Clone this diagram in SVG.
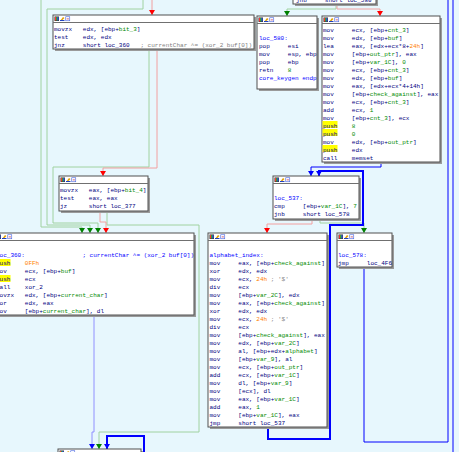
<svg xmlns="http://www.w3.org/2000/svg" width="459" height="452" viewBox="0 0 459 452" xml:space="preserve">
<style>
.t{font-family:"Liberation Mono","DejaVu Sans Mono",monospace;font-size:6px;fill:#000080;white-space:pre}
.v{fill:#008a00}
.o{fill:#ff8000}
.c{fill:#808080}
.l{fill:#0000ff}
.sh{fill:#9a9a9a}
.bx{fill:#ffffff;stroke:#505050;stroke-width:1}
.hd{stroke:#707070;stroke-width:1}
.hl{fill:#ffff00}
.eg{fill:none;stroke:#a0d2a0;stroke-width:1}
.er{fill:none;stroke:#f2a0a0;stroke-width:1}
.eb{fill:none;stroke:#0000ff;stroke-width:1}
.ebt{fill:none;stroke:#0000ff;stroke-width:2}
.elb{fill:none;stroke:#9090ff;stroke-width:1}
</style>
<defs>
<marker id="ag" viewBox="0 0 5 6" refX="5" refY="3" markerWidth="5" markerHeight="6" markerUnits="userSpaceOnUse" orient="auto"><path d="M0,0 L5,3 L0,6 z" fill="#008000"/></marker>
<marker id="ar" viewBox="0 0 5 6" refX="5" refY="3" markerWidth="5" markerHeight="6" markerUnits="userSpaceOnUse" orient="auto"><path d="M0,0 L5,3 L0,6 z" fill="#ff0000"/></marker>
<marker id="ab" viewBox="0 0 5 6" refX="5" refY="3" markerWidth="5" markerHeight="6" markerUnits="userSpaceOnUse" orient="auto"><path d="M0,0 L5,3 L0,6 z" fill="#0000ff"/></marker>
<g id="icons">
<rect x="0" y="0" width="4.5" height="4.5" fill="#303030"/>
<rect x="0.5" y="0.5" width="1.2" height="3.5" fill="#ff3030"/>
<rect x="1.7" y="0.5" width="1.2" height="3.5" fill="#30c030"/>
<rect x="2.9" y="0.5" width="1.1" height="3.5" fill="#3060ff"/>
<rect x="5.5" y="0" width="4.5" height="4.5" fill="#ffffff"/>
<polygon points="5.5,4.5 8.5,0.5 10,1.5 7,4.5" fill="#e0a000"/>
<rect x="5.5" y="3.5" width="4.5" height="1" fill="#2040c0"/>
<rect x="11.25" y="0.25" width="4" height="4" fill="#ffffff" stroke="#4060e0" stroke-width="0.6"/>
<rect x="12.2" y="2" width="2.2" height="0.8" fill="#c04060"/>
</g>
</defs>
<rect x="0" y="0" width="459" height="452" fill="#e7f7fd"/>

<g id="connectors">
<path class="eg" d="M41,0 V227 H82 V233" marker-end="url(#ag)"/>
<path class="eg" d="M143,0 V9 H47 V225 H90 V233" marker-end="url(#ag)"/>
<path class="eg" d="M149,49 V167 H53 V223 H98 V233" marker-end="url(#ag)"/>
<path class="eg" d="M107,211 V225 H199 V432 H99 V449" marker-end="url(#ag)"/>
<path class="eg" d="M336,4 V9 H287 V16" marker-end="url(#ag)"/>
<path class="eg" d="M320,219 V223 H364 V233" marker-end="url(#ag)"/>
<path class="er" d="M152,0 V15" marker-end="url(#ar)"/>
<path class="er" d="M157,49 V168 H103 V176" marker-end="url(#ar)"/>
<path class="er" d="M100,211 V222 H106 V233" marker-end="url(#ar)"/>
<path class="er" d="M337,4 V9 H380 V16" marker-end="url(#ar)"/>
<path class="er" d="M312,219 V224 H267 V233" marker-end="url(#ar)"/>
<path class="elb" d="M94,315 V432 H92 V449" marker-end="url(#ab)"/>
<path class="eb" d="M381,162 V167 H311 V176" marker-end="url(#ab)"/>
<path class="ebt" d="M268,427 V439 H330 V225 H363 V171 H319 V176" marker-end="url(#ab)"/>
<path class="eb" d="M364,267 V442 H448 V0"/>
<path class="eb" d="M453,0 V452"/>
<path class="ebt" d="M144,452 V436 H107 V449" marker-end="url(#ab)"/>
</g>

<g id="n_top">
<rect class="sh" x="295" y="-28" width="83" height="34"/>
<rect class="bx" x="293" y="-30" width="83" height="34"/>
<text class="t" x="296" y="2">jnb     short loc_580</text>
</g>

<g id="n_bit3">
<rect class="sh" x="55" y="17" width="201" height="34"/>
<rect class="bx" x="53" y="15" width="201" height="34"/>
<line class="hd" x1="53" y1="22.5" x2="254" y2="22.5"/>
<use href="#icons" x="54.5" y="16.5"/>
<text class="t" x="54" y="30.5">movzx   edx, [ebp+<tspan class="v">bit_3</tspan>]</text>
<text class="t" x="54" y="38.5">test    edx, edx</text>
<text class="t" x="54" y="46.5">jnz     short loc_360   <tspan class="c">; currentChar ^= (xor_2 buf[0])</tspan></text>
</g>

<g id="n_loc580">
<rect class="sh" x="259" y="18" width="60" height="73"/>
<rect class="bx" x="257" y="16" width="60" height="73"/>
<line class="hd" x1="257" y1="23.5" x2="317" y2="23.5"/>
<use href="#icons" x="258.5" y="17.5"/>
<text class="t l" x="259" y="39.5">loc_580:</text>
<text class="t" x="259" y="47.5">pop     esi</text>
<text class="t" x="259" y="55.5">mov     esp, ebp</text>
<text class="t" x="259" y="63.5">pop     ebp</text>
<text class="t" x="259" y="71.5">retn    <tspan class="v">8</tspan></text>
<text class="t l" x="259" y="79.5">core_keygen endp</text>
</g>

<g id="n_setup">
<rect class="sh" x="324" y="18" width="118" height="146"/>
<rect class="bx" x="322" y="16" width="118" height="146"/>
<line class="hd" x1="322" y1="23.5" x2="440" y2="23.5"/>
<use href="#icons" x="323.5" y="17.5"/>
<rect class="hl" x="322.5" y="121" width="15" height="7"/>
<rect class="hl" x="322.5" y="129" width="15" height="7"/>
<rect class="hl" x="322.5" y="145" width="15" height="7"/>
<text class="t" x="323" y="31.5">mov     ecx, [ebp+<tspan class="v">cnt_3</tspan>]</text>
<text class="t" x="323" y="39.5">mov     edx, [ebp+<tspan class="v">buf</tspan>]</text>
<text class="t" x="323" y="47.5">lea     eax, [edx+ecx*8+<tspan class="o">24h</tspan>]</text>
<text class="t" x="323" y="55.5">mov     [ebp+<tspan class="v">out_ptr</tspan>], eax</text>
<text class="t" x="323" y="63.5">mov     [ebp+<tspan class="v">var_1C</tspan>], <tspan class="v">0</tspan></text>
<text class="t" x="323" y="71.5">mov     ecx, [ebp+<tspan class="v">cnt_3</tspan>]</text>
<text class="t" x="323" y="79.5">mov     edx, [ebp+<tspan class="v">buf</tspan>]</text>
<text class="t" x="323" y="87.5">mov     eax, [edx+ecx*4+14h]</text>
<text class="t" x="323" y="95.5">mov     [ebp+<tspan class="v">check_against</tspan>], eax</text>
<text class="t" x="323" y="103.5">mov     ecx, [ebp+<tspan class="v">cnt_3</tspan>]</text>
<text class="t" x="323" y="111.5">add     ecx, <tspan class="v">1</tspan></text>
<text class="t" x="323" y="119.5">mov     [ebp+<tspan class="v">cnt_3</tspan>], ecx</text>
<text class="t" x="323" y="127.5">push    <tspan class="v">8</tspan></text>
<text class="t" x="323" y="135.5">push    <tspan class="v">0</tspan></text>
<text class="t" x="323" y="143.5">mov     edx, [ebp+<tspan class="v">out_ptr</tspan>]</text>
<text class="t" x="323" y="151.5">push    edx</text>
<text class="t" x="323" y="159.5">call    memset</text>
</g>

<g id="n_bit4">
<rect class="sh" x="61" y="178" width="89" height="35"/>
<rect class="bx" x="59" y="176" width="89" height="35"/>
<line class="hd" x1="59" y1="183.5" x2="148" y2="183.5"/>
<use href="#icons" x="60.5" y="177.5"/>
<text class="t" x="60" y="191.5">movzx   eax, [ebp+<tspan class="v">bit_4</tspan>]</text>
<text class="t" x="60" y="199.5">test    eax, eax</text>
<text class="t" x="60" y="207.5">jz      short loc_377</text>
</g>

<g id="n_loc537">
<rect class="sh" x="275" y="178" width="86" height="43"/>
<rect class="bx" x="273" y="176" width="86" height="43"/>
<line class="hd" x1="273" y1="183.5" x2="359" y2="183.5"/>
<use href="#icons" x="274.5" y="177.5"/>
<text class="t l" x="274" y="199.5">loc_537:</text>
<text class="t" x="274" y="207.5">cmp     [ebp+<tspan class="v">var_1C</tspan>], <tspan class="v">7</tspan></text>
<text class="t" x="274" y="215.5">jnb     short loc_578</text>
</g>

<g id="n_loc360">
<rect class="sh" x="-3" y="235" width="199" height="82"/>
<rect class="bx" x="-5" y="233" width="199" height="82"/>
<line class="hd" x1="-5" y1="240.5" x2="194" y2="240.5"/>
<use href="#icons" x="-3.5" y="234.5"/>
<rect class="hl" x="-4.5" y="259" width="15" height="7"/>
<rect class="hl" x="-4.5" y="275" width="15" height="7"/>
<text class="t" x="-4" y="256.5"><tspan class="l">loc_360:</tspan>                <tspan class="l">; currentChar ^= (xor_2 buf[0])</tspan></text>
<text class="t" x="-4" y="264.5">push    <tspan class="o">0FFh</tspan></text>
<text class="t" x="-4" y="272.5">mov     ecx, [ebp+<tspan class="v">buf</tspan>]</text>
<text class="t" x="-4" y="280.5">push    ecx</text>
<text class="t" x="-4" y="288.5">call    xor_2</text>
<text class="t" x="-4" y="296.5">movzx   edx, [ebp+<tspan class="v">current_char</tspan>]</text>
<text class="t" x="-4" y="304.5">xor     edx, eax</text>
<text class="t" x="-4" y="312.5">mov     [ebp+<tspan class="v">current_char</tspan>], dl</text>
</g>

<g id="n_alphabet_index">
<rect class="sh" x="210" y="235" width="119" height="194"/>
<rect class="bx" x="208" y="233" width="119" height="194"/>
<line class="hd" x1="208" y1="240.5" x2="327" y2="240.5"/>
<use href="#icons" x="209.5" y="234.5"/>
<text class="t l" x="209.5" y="256.5">alphabet_index:</text>
<text class="t" x="209.5" y="264.5">mov     eax, [ebp+<tspan class="v">check_against</tspan>]</text>
<text class="t" x="209.5" y="272.5">xor     edx, edx</text>
<text class="t" x="209.5" y="280.5">mov     ecx, <tspan class="o">24h</tspan> <tspan class="c">; '$'</tspan></text>
<text class="t" x="209.5" y="288.5">div     ecx</text>
<text class="t" x="209.5" y="296.5">mov     [ebp+<tspan class="v">var_2C</tspan>], edx</text>
<text class="t" x="209.5" y="304.5">mov     eax, [ebp+<tspan class="v">check_against</tspan>]</text>
<text class="t" x="209.5" y="312.5">xor     edx, edx</text>
<text class="t" x="209.5" y="320.5">mov     ecx, <tspan class="o">24h</tspan> <tspan class="c">; '$'</tspan></text>
<text class="t" x="209.5" y="328.5">div     ecx</text>
<text class="t" x="209.5" y="336.5">mov     [ebp+<tspan class="v">check_against</tspan>], eax</text>
<text class="t" x="209.5" y="344.5">mov     edx, [ebp+<tspan class="v">var_2C</tspan>]</text>
<text class="t" x="209.5" y="352.5">mov     al, [ebp+edx+<tspan class="v">alphabet</tspan>]</text>
<text class="t" x="209.5" y="360.5">mov     [ebp+<tspan class="v">var_9</tspan>], al</text>
<text class="t" x="209.5" y="368.5">mov     ecx, [ebp+<tspan class="v">out_ptr</tspan>]</text>
<text class="t" x="209.5" y="376.5">add     ecx, [ebp+<tspan class="v">var_1C</tspan>]</text>
<text class="t" x="209.5" y="384.5">mov     dl, [ebp+<tspan class="v">var_9</tspan>]</text>
<text class="t" x="209.5" y="392.5">mov     [ecx], dl</text>
<text class="t" x="209.5" y="400.5">mov     eax, [ebp+<tspan class="v">var_1C</tspan>]</text>
<text class="t" x="209.5" y="408.5">add     eax, <tspan class="v">1</tspan></text>
<text class="t" x="209.5" y="416.5">mov     [ebp+<tspan class="v">var_1C</tspan>], eax</text>
<text class="t" x="209.5" y="424.5">jmp     short loc_537</text>
</g>

<g id="n_loc578">
<rect class="sh" x="339" y="235" width="55" height="34"/>
<rect class="bx" x="337" y="233" width="55" height="34"/>
<line class="hd" x1="337" y1="240.5" x2="392" y2="240.5"/>
<use href="#icons" x="338.5" y="234.5"/>
<text class="t l" x="338" y="256.5">loc_578:</text>
<text class="t" x="338" y="264.5">jmp     loc_4F6</text>
</g>

<g id="n_loc377">
<rect class="sh" x="60" y="451" width="83" height="20"/>
<rect class="bx" x="58" y="449" width="83" height="20"/>
<use href="#icons" x="59.5" y="450.5"/>
</g>
</svg>
